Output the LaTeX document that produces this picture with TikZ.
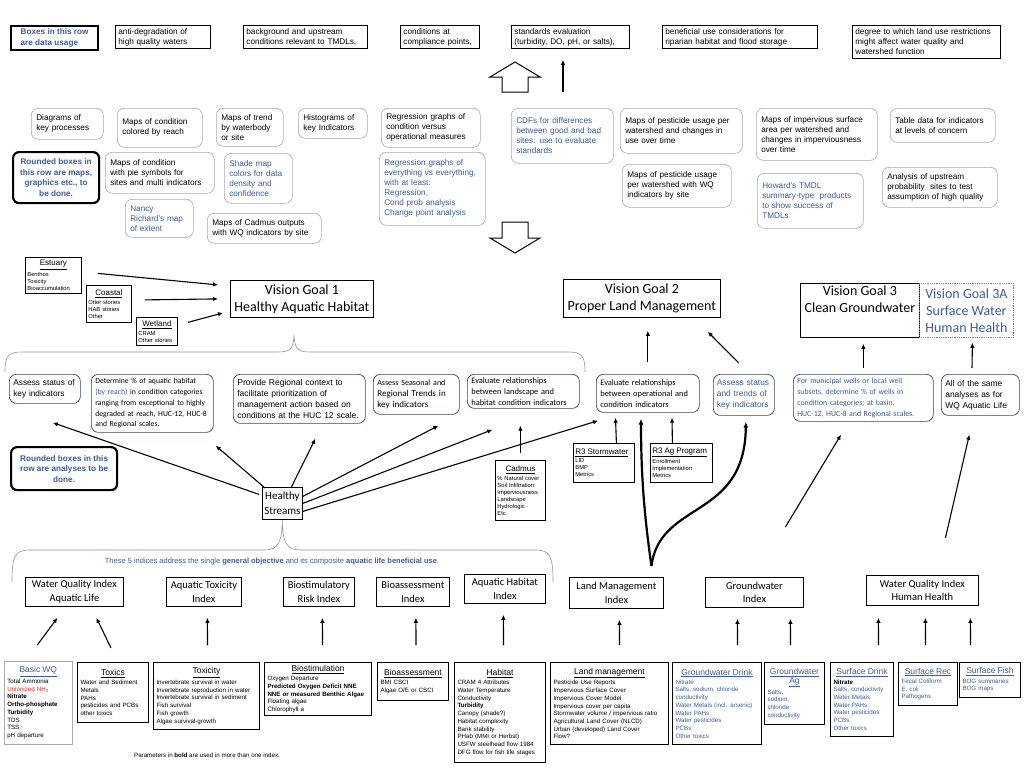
\documentclass[tikz,border=0pt]{standalone}
\usepackage{fontspec}
\setmainfont{Liberation Sans}
\newfontfamily\calfont{Carlito}
\usetikzlibrary{calc,arrows.meta}

\definecolor{noteblue}{RGB}{62,92,152}
\definecolor{mapgray}{RGB}{170,170,170}
\definecolor{anaframe}{RGB}{52,68,100}
\definecolor{bracegray}{RGB}{150,150,150}
\definecolor{wqred}{RGB}{225,40,40}

\tikzset{
  usebox/.style={draw, line width=0.8pt, anchor=north west, align=left,
    inner xsep=3pt, inner ysep=2pt, font=\fontsize{8.2}{10}\selectfont},
  notebox/.style={draw, line width=2.2pt, rounded corners=6pt, anchor=north west,
    align=center, inner sep=2pt, text=noteblue, font=\bfseries\fontsize{8.2}{10.5}\selectfont},
  mapbox/.style={draw=mapgray, line width=0.6pt, rounded corners=7pt,
    anchor=north west, align=left, inner xsep=5pt, inner ysep=2pt,
    font=\fontsize{8.2}{10}\selectfont},
  anabox/.style={draw=anaframe, line width=0.7pt, rounded corners=7pt,
    anchor=north west, align=left, inner xsep=4pt, inner ysep=2pt},
  goalbox/.style={draw, line width=0.8pt, anchor=north west, align=center,
    inner sep=0.5pt, font=\calfont\fontsize{14}{17}\selectfont},
  idxbox/.style={draw, line width=0.8pt, anchor=north west, align=center,
    inner sep=0.5pt, font=\calfont\fontsize{10.5}{13.5}\selectfont},
  srcbox/.style={draw, line width=1pt, anchor=north west, align=left,
    inner xsep=3pt, inner ysep=2pt, font=\fontsize{6.2}{7.7}\selectfont},
  smallbox/.style={draw, line width=0.8pt, anchor=north west, align=left,
    inner xsep=2pt, inner ysep=1.5pt, font=\fontsize{5.8}{7}\selectfont},
  arr/.style={-{Latex[length=5pt,width=4.5pt]}, line width=1.1pt},
  bigarr/.style={-{Latex[length=6pt,width=5pt]}, line width=2.2pt},
  blockarrow/.style={draw, line width=1pt, fill=white, line join=miter},
  brace/.style={draw=bracegray, line width=0.6pt}
}
\newcommand{\srctitle}[1]{\makebox[\linewidth]{\fontsize{8.5}{10}\selectfont\underline{#1}}\\[1.5pt]}
\newcommand{\smalltitle}[1]{\makebox[\linewidth]{\fontsize{8}{9}\selectfont\underline{#1}}\\[2pt]}

\begin{document}
\begin{tikzpicture}[x=1pt,y=-1pt]
\fill[white] (0,0) rectangle (1024,768);
\useasboundingbox (0,0) rectangle (1024,768);

% data usage row
\node[notebox, align=left, sharp corners, minimum width=87pt, minimum height=24pt] (usenote) at (10,25) {Boxes in this row\\are data usage};
\node[usebox, text width=89pt, minimum height=23pt] (antideg) at (115,25) {anti-degradation of\\high quality waters};
\node[usebox, text width=118pt, minimum height=23pt] (tmdl) at (243,25) {background and upstream\\conditions relevant to TMDLs,};
\node[usebox, text width=73pt, minimum height=23pt] (compl) at (400,25) {conditions at\\compliance points,};
\node[usebox, text width=112pt, minimum height=23pt] (stds) at (511,25) {standards evaluation\\(turbidity, DO, pH, or salts),};
\node[usebox, text width=149pt, minimum height=23pt] (ripar) at (662,25) {beneficial use considerations for\\riparian habitat and flood storage};
\node[usebox, text width=142pt, minimum height=33pt] (landuse) at (852,25) {degree to which land use restrictions\\might affect water quality and\\watershed function};

\draw[blockarrow] (515,62) -- (540,77) -- (528,77) -- (528,92) -- (502,92) -- (502,77) -- (490,77) -- cycle;
\coordinate (usefoot) at (563,92);
\draw[arr, shorten >=11pt] (usefoot) -- (usefoot |- stds.south);

% maps and graphics row
\node[mapbox, text width=62pt, minimum height=31pt] (keyproc) at (31,108) {Diagrams of\\key processes};
\node[mapbox, text width=75pt, minimum height=39pt] (mapreach) at (117,108) {Maps of condition\\colored by reach};
\node[mapbox, text width=57pt, minimum height=38pt] (maptrend) at (216,108) {Maps of trend\\by waterbody\\or site};
\node[mapbox, text width=59pt, minimum height=30pt] (histo) at (298,108) {Histograms of\\key Indicators};
\node[mapbox, text width=89pt, minimum height=39pt] (regcond) at (381,108) {Regression graphs of\\condition versus\\operational measures};
\node[notebox, minimum width=86pt, minimum height=51pt] (mapnote) at (12,151) {Rounded boxes in\\this row are maps,\\graphics etc., to\\be done.};
\node[mapbox, text width=99pt, minimum height=41pt] (mappie) at (105,152) {Maps of condition\\with pie symbols for\\sites and multi indicators};
\node[mapbox, text=noteblue, text width=58pt, minimum height=50pt] (shade) at (224,153) {Shade map\\colors for data\\density and\\confidence};
\node[mapbox, text=noteblue, text width=96pt, minimum height=73pt] (regall) at (379,152) {Regression graphs of\\everything vs everything,\\with at least:\\Regression,\\Cond prob analysis\\Change point analysis};
\node[mapbox, text=noteblue, text width=58pt, minimum height=38pt] (nancy) at (125,199) {Nancy\\Richard's map\\of extent};
\node[mapbox, text width=104pt, minimum height=30pt] (cadmap) at (207,213) {Maps of Cadmus outputs\\with WQ indicators by site};
\node[mapbox, text=noteblue, text width=92pt, minimum height=55pt] (cdf) at (511,108) {CDFs for differences\\between good and bad\\sites: use to evaluate\\standards};
\node[mapbox, text width=112pt, minimum height=45pt] (pestuse) at (620,108) {Maps of pesticide usage per\\watershed and changes in\\use over time};
\node[mapbox, text width=111pt, minimum height=52pt] (impserv) at (756,108) {Maps of impervious surface\\area per watershed and\\changes in imperviousness\\over time};
\node[mapbox, text width=95pt, minimum height=34pt] (tabdata) at (890,108) {Table data for indicators\\at levels of concern};
\node[mapbox, text width=99pt, minimum height=43pt] (pestwq) at (622,164) {Maps of pesticide usage\\per watershed with WQ\\indicators by site};
\node[mapbox, text=noteblue, text width=96pt, minimum height=55pt] (howard) at (757,173) {Howard's TMDL\\summary-type~ products\\to show success of\\TMDLs};
\node[mapbox, text width=105pt, minimum height=40pt] (upstream) at (882,167) {Analysis of upstream\\probability~ sites to test\\assumption of high quality};

\draw[blockarrow] (502,222) -- (528,222) -- (528,238) -- (540,238) -- (515,253) -- (490,238) -- (502,238) -- cycle;

% vision goals
\node[smallbox, text width=52pt, minimum height=36pt] (est) at (25,257) {\smalltitle{Estuary}Benthos\\Toxicity\\Bioaccumulation};
\node[smallbox, text width=41pt, minimum height=37pt] (coast) at (86,285) {\smalltitle{Coastal}Otter stories\\HAB stories\\Other};
\node[smallbox, text width=37pt, minimum height=28pt] (wet) at (136,317) {\smalltitle{Wetland}CRAM\\Other stories};
\node[goalbox, minimum width=143pt, minimum height=37pt] (vg1) at (230,280) {Vision Goal 1\\Healthy Aquatic Habitat};
\node[goalbox, minimum width=157pt, minimum height=38pt] (vg2) at (563,279) {Vision Goal 2\\Proper Land Management};
\node[goalbox, minimum width=119pt, minimum height=54pt] (vg3) at (800,283) {Vision Goal 3\\Clean Groundwater\\\strut};
\node[goalbox, draw=gray, densely dotted, text=noteblue, minimum width=94pt, minimum height=54pt] (vg3a) at (919,283) {Vision Goal 3A\\Surface Water\\Human Health};

\draw[arr] ($(est.east)+(16,-2)$) -- ($(vg1.west)+(-12,-14)$);
\draw[arr] ($(coast.east)+(13,-4)$) -- ($(vg1.west)+(-12,0)$);
\draw[arr] ($(wet.east)+(10,-9)$) -- ($(vg1.west)+(-7,14)$);

\draw[brace] (5,372) .. controls (5,356) and (8,352) .. (22,352) -- (278,352) .. controls (290,352) and (293,349) .. (294,336) .. controls (295,349) and (298,352) .. (310,352) -- (568,352) .. controls (582,352) and (585,356) .. (585,372);

% analyses row
\node[anabox, font=\fontsize{8.3}{10.5}\selectfont, text width=63pt, minimum height=29pt] (assess1) at (9,374) {Assess status of\\key indicators};
\node[anabox, font=\calfont\fontsize{7.7}{10.8}\selectfont, text width=114pt, minimum height=58pt] (determine) at (91,374) {Determine \% of aquatic habitat\\{\color{noteblue}(by reach)} in condition categories\\ranging from exceptional to highly\\degraded at reach, HUC-12, HUC-8\\and Regional scales.};
\node[anabox, font=\fontsize{8.5}{11}\selectfont, text width=124pt, minimum height=49pt] (context) at (233,374) {Provide Regional context to\\facilitate prioritization of\\management action based on\\conditions at the HUC 12 scale.};
\node[anabox, font=\calfont\fontsize{9}{11}\selectfont, text width=78pt, minimum height=40pt] (seasonal) at (373,374) {{\fontsize{8}{11}\selectfont Assess Seasonal and}\\Regional Trends in\\key indicators};
\node[anabox, font=\calfont\fontsize{8.4}{11}\selectfont, text width=104pt, minimum height=34pt] (landscape) at (467,374) {Evaluate relationships\\between landscape and\\habitat condition indicators};
\node[anabox, font=\calfont\fontsize{8.4}{11}\selectfont, text width=95pt, minimum height=38pt] (operational) at (596,374) {Evaluate relationships\\between operational and\\condition indicators};
\node[anabox, font=\fontsize{8.4}{11}\selectfont, text=noteblue, inner xsep=3.5pt, text width=54pt, minimum height=41pt] (trends) at (713,374) {Assess status\\and trends of\\key indicators};
\node[anabox, font=\calfont\fontsize{7.8}{10.8}\selectfont, text=noteblue, text width=132pt, minimum height=47pt] (wells) at (793,374) {For municipal wells or local well\\subsets, determine \% of wells in\\condition categories; at basin,\\HUC-12, HUC-8 and Regional scales.};
\node[anabox, font=\fontsize{8.4}{11}\selectfont, text width=70pt, minimum height=41pt] (same) at (941,374) {All of the same\\analyses as for\\WQ Aquatic Life};

\draw[arr, shorten <=12pt, shorten >=13pt] (operational.north) -- (operational.north |- vg2.south);
\draw[arr] ($(trends.north)+(-5,-11)$) -- ($(vg2.south east)+(-13,14)$);
\draw[arr, shorten <=6pt, shorten >=6pt] (wells.north) -- (wells.north |- vg3.south);
\draw[arr] ($(same.north west)+(31,-6)$) -- ($(vg3a.south)+(6,5)$);

\node[notebox, minimum width=106pt, minimum height=43pt] (ananote) at (10,446) {Rounded boxes in this\\row are analyses to be\\done.};

% healthy streams and its arrows
\node[draw, line width=0.8pt, anchor=north west, align=center, inner sep=0.5pt,
  font=\calfont\fontsize{11}{14.5}\selectfont, minimum width=40pt, minimum height=32pt] (hs) at (262,487) {Healthy\\Streams};
\draw[arr] ($(hs.west)+(-3,-9)$) -- ($(assess1.south)+(8,19)$);
\draw[arr] ($(hs.north west)+(3,1)$) -- ($(determine.south east)+(2,13)$);
\draw[arr] ($(hs.north)+(9,0)$) -- ($(context.south)+(16,15)$);
\draw[arr] ($(hs.east)+(0,-7)$) -- ($(seasonal.south)+(22,11)$);
\draw[arr] (hs.east) -- ($(landscape.south)+(-31,21)$);
\draw[arr] ($(hs.east)+(0,8)$) -- ($(operational.south west)+(2,8)$);

\node[smallbox, text width=46pt, minimum height=60pt] (cad) at (495,460) {\smalltitle{Cadmus}\% Natural cover\\Soil Infiltration\\Imperviousness\\Landscape\\Hydrologic\\Etc.};
\draw[arr, shorten <=7pt, shorten >=17pt] (cad.north) -- (cad.north |- landscape.south);

\node[smallbox, text width=57pt, minimum height=39pt] (r3s) at (573,443) {{\fontsize{8}{9}\selectfont\underline{R3 Stormwater}}\\[1.5pt]LID\\BMP\\Metrics};
\node[smallbox, text width=58pt, minimum height=39pt] (r3a) at (650,443) {{\fontsize{8}{9}\selectfont\underline{R3 Ag Program}}\\[1.5pt]Enrollment\\Implementation\\Metrics};
\draw[arr] ($(r3s.north)+(12.5,0)$) -- ($(operational.south west)+(19.5,5)$);
\draw[arr] ($(r3a.north)+(-9,0)$) -- ($(operational.south west)+(76,5)$);

\draw[brace] (12,582) .. controls (12,556) and (15,550) .. (30,550) -- (265,550) .. controls (278,550) and (282,542) .. (hs.south) .. controls (282,542) and (287,550) .. (300,550) -- (535,550) .. controls (550,550) and (553,556) .. (553,582);
\node[text=noteblue, font=\fontsize{7.5}{9}\selectfont] (fivenote) at (272,562) {These 5 indices address the single \textbf{general objective} and its composite \textbf{aquatic life beneficial use}.};

% index row
\node[idxbox, minimum width=98pt, minimum height=29pt] (wqal) at (25,577) {Water Quality Index\\Aquatic Life};
\node[idxbox, minimum width=75pt, minimum height=29pt] (aqtox) at (166,577) {Aquatic Toxicity\\Index};
\node[idxbox, minimum width=71pt, minimum height=29pt] (biorisk) at (283,577) {Biostimulatory\\Risk Index};
\node[idxbox, minimum width=73pt, minimum height=29pt] (bioidx) at (376,577) {Bioassessment\\Index};
\node[idxbox, minimum width=81pt, minimum height=29pt] (habidx) at (464,574) {Aquatic Habitat\\Index};
\node[idxbox, minimum width=94pt, minimum height=31pt] (lmidx) at (569,577) {Land Management\\Index};
\node[idxbox, minimum width=98pt, minimum height=30pt] (gwidx) at (705,577) {Groundwater\\Index};
\node[idxbox, minimum width=112pt, minimum height=30pt] (wqhh) at (866,575) {Water Quality Index\\Human Health};

\coordinate (lmfork) at ($(lmidx.north)+(35,-11)$);
\draw[bigarr] (lmfork) .. controls (645,520) and (641,480) .. ($(operational.south west)+(45,6)$);
\draw[bigarr] (lmfork) .. controls (660,500) and (745,520) .. ($(trends.south)+(2,6)$);
\draw[arr] ($(gwidx.north)+(31,-50)$) -- ($(wells.south west)+(48,13)$);
\draw[arr] ($(wqhh.north)+(23,-37)$) -- ($(same.south)+(-11,19)$);

% source parameter boxes
\node[srcbox, draw=mapgray, line width=0.6pt, text width=62pt, minimum height=83pt] (basicwq) at (4,661) {{\color{noteblue}\srctitle{Basic WQ}}Total Ammonia\\{\color{wqred}Unionized NH\textsubscript{3}}\\\textbf{Nitrate}\\\textbf{Ortho-phosphate}\\\textbf{Turbidity}\\TDS\\TSS\\pH departure};
\node[srcbox, text width=65pt, minimum height=60pt] (toxics) at (77,662) {\srctitle{Toxics}Water and Sediment\\Metals\\PAHs\\pesticides and PCBs\\other toxics};
\node[srcbox, text width=100pt, minimum height=67pt] (toxicity) at (153,662) {\srctitle{Toxicity}Invertebrate survival in water\\Invertebrate reproduction in water\\Invertebrate survival in sediment\\Fish survival\\Fish growth\\Algae survival-growth};
\node[srcbox, text width=101pt, minimum height=53pt] (biostim) at (264,662) {\srctitle{Biostimulation}Oxygen Departure\\\textbf{Predicted Oxygen Deficit NNE}\\\textbf{NNE or measured Benthic Algae}\\Floating algae\\Chlorophyll a};
\node[srcbox, text width=65pt, minimum height=38pt] (bioassess) at (377,662) {\srctitle{Bioassessment}BMI CSCI\\Algae O/E or CSCI};
\node[srcbox, text width=85pt, minimum height=100pt] (habitat) at (454,662) {\srctitle{Habitat}CRAM 4 Attributes\\Water Temperature\\Conductivity\\\textbf{Turbidity}\\Canopy (shade?)\\Habitat complexity\\Bank stability\\PHab (MMI or Herbst)\\USFW steelhead flow 1984\\DFG flow for fish life stages};
\node[srcbox, text width=112pt, minimum height=82pt] (landmgmt) at (550,662) {\srctitle{Land management}Pesticide Use Reports\\Impervious Surface Cover\\Impervious Cover Model\\Impervious cover per capita\\Stormwater volume / impervious ratio\\Agricultural Land Cover (NLCD)\\Urban (developed) Land Cover\\Flow?};
\node[srcbox, text=noteblue, text width=83pt, minimum height=82pt] (gwdrink) at (672,662) {\srctitle{Groundwater Drink}Nitrate\\Salts, sodium, chloride\\conductivity\\Water Metals (incl. arsenic)\\Water PAHs\\Water pesticides\\PCBs\\Other toxics};
\node[srcbox, text=noteblue, text width=54pt, minimum height=62pt] (gwag) at (764,662) {\makebox[\linewidth]{\fontsize{8.5}{10}\selectfont\underline{Groundwater}}\\\srctitle{Ag}Salts,\\sodium,\\chloride\\conductivity};
\node[srcbox, text=noteblue, text width=57pt, minimum height=74pt] (sfdrink) at (830,662) {\srctitle{Surface Drink}{\color{black}\textbf{Nitrate}}\\Salts, conductivity\\Water Metals\\Water PAHs\\Water pesticides\\PCBs\\Other toxics};
\node[srcbox, text=noteblue, text width=53pt, minimum height=43pt] (sfrec) at (898,662) {\srctitle{Surface Rec}Fecal Coliform\\E. coli\\Pathogens};
\node[srcbox, text=noteblue, text width=55pt, minimum height=35pt] (sffish) at (959,662) {\srctitle{Surface Fish}BOG summaries\\BOG maps};
\node[font=\fontsize{6.2}{7.5}\selectfont] (boldnote) at (207,755) {Parameters in \textbf{bold} are used in more than one index.};

\draw[arr] ($(basicwq.north)+(-1,-16)$) -- ($(wqal.south)+(-17,11)$);
\draw[arr] ($(toxics.north)+(-2,-14)$) -- ($(wqal.south)+(22,11)$);
\draw[arr] ($(toxicity.north)+(1,-17)$) -- ($(aqtox.south)+(3.5,11)$);
\draw[arr] ($(biostim.north)+(4.5,-17)$) -- ($(biorisk.south)+(3.5,11)$);
\draw[arr] ($(bioassess.north)+(3,-17)$) -- ($(bioidx.south)+(3,11)$);
\draw[arr] ($(habitat.north)+(3.5,-17)$) -- ($(habidx.south)+(-1.5,11)$);
\draw[arr] ($(landmgmt.north)+(10,-17)$) -- ($(lmidx.south)+(3,11)$);
\draw[arr] ($(gwdrink.north)+(20.5,-17)$) -- ($(gwidx.south)+(-17,11)$);
\draw[arr] ($(gwag.north)+(-4,-17)$) -- ($(gwidx.south)+(36,11)$);
\draw[arr] ($(sfdrink.north)+(16.5,-17)$) -- ($(wqhh.south)+(-44,12)$);
\draw[arr] ($(sfrec.north)+(-2.5,-17)$) -- ($(wqhh.south)+(3,12)$);
\draw[arr] ($(sffish.north)+(-19.5,-17)$) -- ($(wqhh.south)+(48,12)$);
\end{tikzpicture}
\end{document}
